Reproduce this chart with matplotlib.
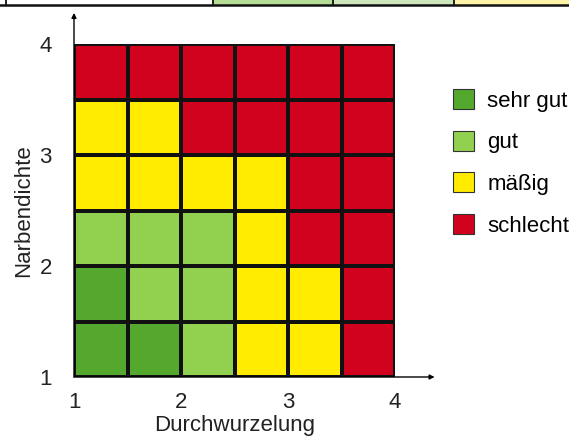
import numpy as np
import matplotlib
matplotlib.use("Agg")
import matplotlib.pyplot as plt
from matplotlib.colors import ListedColormap
from matplotlib.patches import Patch, Rectangle

plt.rcParams['font.family'] = ['Liberation Sans', 'DejaVu Sans']

# Bewertungsklassen und Farben
klassen = ["sehr gut", "gut", "mäßig", "schlecht"]
farben = ["#55a82e", "#92d050", "#ffec00", "#d0021e"]

# Rasterbewertung, Zeilen von unten (Narbendichte 1) nach oben (4)
bewertung = [
    ["sehr gut", "sehr gut", "gut", "mäßig", "mäßig", "schlecht"],
    ["sehr gut", "gut", "gut", "mäßig", "mäßig", "schlecht"],
    ["gut", "gut", "gut", "mäßig", "schlecht", "schlecht"],
    ["mäßig", "mäßig", "mäßig", "mäßig", "schlecht", "schlecht"],
    ["mäßig", "mäßig", "schlecht", "schlecht", "schlecht", "schlecht"],
    ["schlecht", "schlecht", "schlecht", "schlecht", "schlecht", "schlecht"],
]
x_ticks = [1, 2, 3, 4]
y_ticks = [1, 2, 3, 4]

W, H = 569, 438
fs = 16
fig = plt.figure(figsize=(W / 100, H / 100), dpi=100)

# abgeschnittene Tabellenzeile am oberen Rand
strip = [(6, 213, "white"), (213, 333, "#b5dc94"), (333, 454, "#cde7bb"), (454, 569, "#fff3a8")]
for x0, x1, c in strip:
    fig.patches.append(Rectangle((x0 / W, 1 - 4.5 / H), (x1 - x0) / W, 4.5 / H,
                                 transform=fig.transFigure, facecolor=c, edgecolor="none"))
for xs in [6, 213, 333, 454]:
    fig.lines.append(plt.Line2D([xs / W, xs / W], [1 - 5 / H, 1], transform=fig.transFigure,
                                color="#111111", linewidth=1.3))
fig.lines.append(plt.Line2D([0, 1], [1 - 4.8 / H, 1 - 4.8 / H], transform=fig.transFigure,
                            color="#111111", linewidth=1.8))

ax = fig.add_axes([74 / W, (H - 377) / H, (395 - 74) / W, (377 - 44) / H])

codes = np.array([[klassen.index(v) for v in row] for row in bewertung])
xe = np.linspace(1, 4, codes.shape[1] + 1)
ye = np.linspace(1, 4, codes.shape[0] + 1)
ax.pcolormesh(xe, ye, codes, cmap=ListedColormap(farben), vmin=-0.5, vmax=3.5,
              edgecolors="#111111", linewidth=1.5)

ax.set_xlim(1, 4)
ax.set_ylim(1, 4)
for s in ax.spines.values():
    s.set_visible(False)

# Achsenpfeile
ax.annotate("", xy=(4.37, 1), xytext=(1, 1), annotation_clip=False,
            arrowprops=dict(arrowstyle="-|>", color="black", lw=1, mutation_scale=7, shrinkA=0, shrinkB=0))
ax.annotate("", xy=(1, 4.28), xytext=(1, 1), annotation_clip=False,
            arrowprops=dict(arrowstyle="-|>", color="black", lw=1, mutation_scale=7, shrinkA=0, shrinkB=0))

ax.set_xticks(x_ticks)
ax.set_yticks(y_ticks)
ax.tick_params(length=0, labelsize=fs, colors="#222222")
ax.tick_params(axis="x", pad=11)
ax.tick_params(axis="y", pad=16)
ax.set_xlabel("Durchwurzelung", fontsize=fs, color="#222222", labelpad=1)
ax.set_ylabel("Narbendichte", fontsize=fs, color="#222222", labelpad=4)

handles = [Patch(facecolor=c, edgecolor="#333333", linewidth=0.8) for c in farben]
fig.legend(handles, klassen, loc="upper left", bbox_to_anchor=(453 / W, 1 - 89 / H),
           frameon=False, fontsize=fs, handlelength=0.95, handleheight=1.0,
           handletextpad=0.6, labelspacing=0.86, borderpad=0, borderaxespad=0)

fig.savefig("out.png", dpi=100)
